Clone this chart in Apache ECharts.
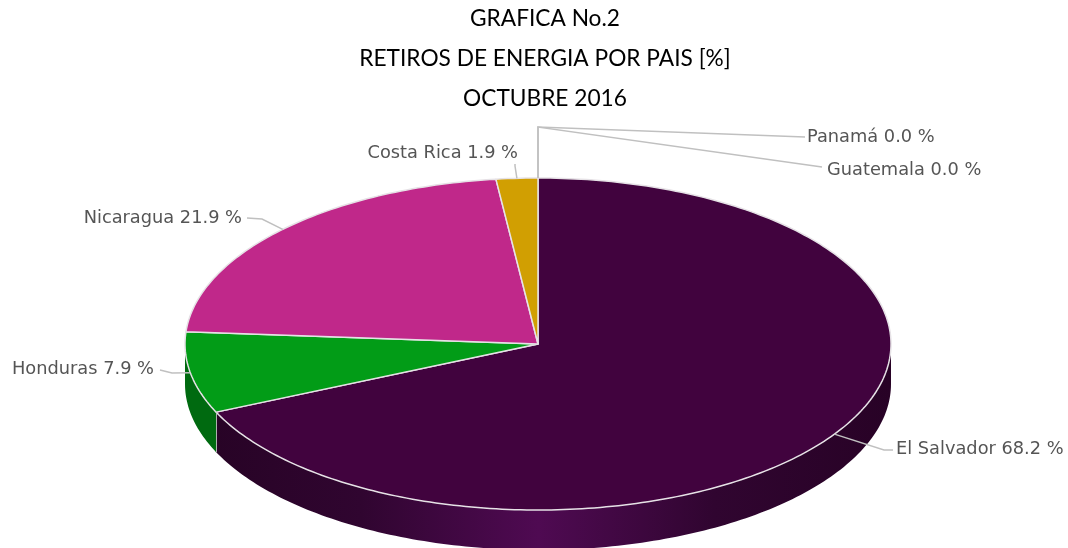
<!DOCTYPE html>
<html>
<head>
<meta charset="utf-8">
<title>Retiros de energia por pais</title>
<style>
  html, body { margin: 0; padding: 0; background: #fff; }
  #chart { width: 1068px; height: 548px; }
</style>
<script src="https://cdn.jsdelivr.net/npm/echarts@6/dist/echarts.min.js"></script>
</head>
<body>
<div id="chart"></div>
<script>
// data, clockwise from 12 o'clock
var paises = ['El Salvador', 'Honduras', 'Nicaragua', 'Costa Rica', 'Panamá', 'Guatemala'];
var porcentajes = [68.2, 7.9, 21.9, 1.9, 0.0, 0.0];
var titulos = ['GRAFICA No.2', 'RETIROS DE ENERGIA POR PAIS [%]', 'OCTUBRE 2016'];

// look of each slice: top face and side wall
var coloresTapa = ['#41033e', '#029c17', '#c0288a', '#d19f02', '#8a8a8a', '#8a8a8a'];
var coloresPared = [null, '#006a10', '#8a1c63', '#96720a', '#666666', '#666666'];

// pie geometry
var cx = 538, cy = 344, rx = 353, ry = 166, depth = 40;

// leader lines: elbow and label anchor for each slice
var codos = [[884, 450], [172, 373], [262, 219], [515, 166], [538, 127], [538, 127]];
var finales = [[893, 450], [160, 370], [247, 218], [515, 164], [805, 137], [822, 167]];
var etiquetas = [
  [896, 449, 'left'], [154, 369, 'right'], [242, 218, 'right'],
  [518, 153, 'right'], [807, 137, 'left'], [827, 170, 'left']
];

var total = porcentajes.reduce(function (a, b) { return a + b; }, 0);

function startAngle (i) {
  var s = 0;
  for (var k = 0; k < i; k++) s += porcentajes[k];
  return s / total * 360;
}

// point on the rim, angle in degrees clockwise from the top
function rim (deg, dy) {
  var t = deg * Math.PI / 180;
  return [cx + rx * Math.sin(t), cy - ry * Math.cos(t) + (dy || 0)];
}

function arc (from, to, dy) {
  var pts = [];
  var n = Math.max(1, Math.ceil(Math.abs(to - from)));
  for (var i = 0; i <= n; i++) {
    pts.push(rim(from + (to - from) * i / n, dy));
  }
  return pts;
}

var gradPared = {
  type: 'linear', x: cx - rx, y: 0, x2: cx + rx, y2: 0, global: true,
  colorStops: [
    { offset: 0, color: '#260324' },
    { offset: 0.25, color: '#300530' },
    { offset: 0.5, color: '#4f0a52' },
    { offset: 0.75, color: '#300530' },
    { offset: 1, color: '#280226' }
  ]
};

function renderSlice (params, api) {
  var i = params.dataIndex;
  var value = api.value(0);
  var a0 = startAngle(i);
  var a1 = a0 + value / total * 360;
  var children = [];

  // side wall, only the front half of the rim is visible
  var w0 = Math.max(a0, 90), w1 = Math.min(a1, 270);
  if (value > 0 && w1 > w0) {
    children.push({
      type: 'polygon',
      shape: { points: arc(w0, w1, 0).concat(arc(w1, w0, depth)) },
      style: { fill: i === 0 ? gradPared : coloresPared[i] }
    });
  }

  // top face
  if (value > 0) {
    children.push({
      type: 'polygon',
      shape: { points: [[cx, cy]].concat(arc(a0, a1, 0)) },
      style: { fill: coloresTapa[i], stroke: '#e6e2e6', lineWidth: 1.5, lineJoin: 'round' }
    });
  }

  // seam between the walls
  if (value > 0 && a1 > 90 && a1 < 270) {
    var p = rim(a1);
    children.push({
      type: 'line',
      shape: { x1: p[0], y1: p[1], x2: p[0], y2: p[1] + depth },
      style: { stroke: '#d8d8d8', lineWidth: 1.5 }
    });
  }

  // leader line and label
  var mid = rim((a0 + a1) / 2);
  children.push({
    type: 'polyline',
    shape: { points: [mid, codos[i], finales[i]] },
    style: { stroke: '#c0c0c0', lineWidth: 1.5, fill: null }
  });
  children.push({
    type: 'text',
    style: {
      x: etiquetas[i][0],
      y: etiquetas[i][1],
      text: paises[i] + ' ' + value.toFixed(1) + ' %',
      align: etiquetas[i][2],
      verticalAlign: 'middle',
      fill: '#555555',
      fontFamily: 'DejaVu Sans',
      fontSize: 17.8
    }
  });

  return { type: 'group', children: children };
}

var chart = echarts.init(document.getElementById('chart'));
chart.setOption({
  animation: false,
  backgroundColor: '#ffffff',
  title: {
    text: titulos.join('\n'),
    left: 540,
    top: -6,
    textAlign: 'center',
    textStyle: {
      fontFamily: 'Lato',
      fontWeight: 'normal',
      fontSize: 22.7,
      lineHeight: 40,
      color: '#000000'
    }
  },
  series: [{
    type: 'custom',
    coordinateSystem: 'none',
    silent: true,
    renderItem: renderSlice,
    data: porcentajes.map(function (v, i) {
      return { name: paises[i], value: [v] };
    })
  }]
});
</script>
</body>
</html>
